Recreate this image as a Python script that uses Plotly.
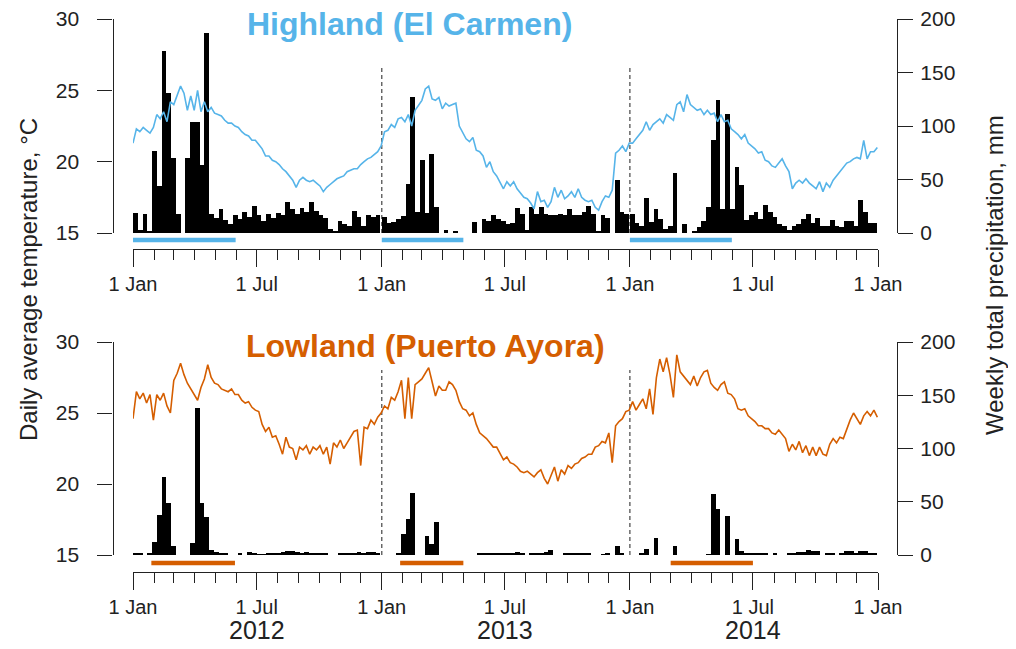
import pandas as pd
import plotly.graph_objects as go

# ---------------- data ----------------
YEARS = [2012, 2013, 2014]

# weekly total precipitation, mm (52 weeks per year, starting 1 Jan)
highland_rain_2012 = [19, 3, 18, 1, 77, 44, 170, 131, 70, 18,
                      0, 70, 104, 104, 64, 187, 18, 14, 22, 12,
                      8, 17, 13, 20, 15, 25, 17, 11, 18, 14,
                      19, 17, 29, 22, 18, 23, 20, 29, 21, 17,
                      14, 4, 2, 11, 8, 7, 21, 15, 7, 17,
                      15, 17]
highland_rain_2013 = [15, 9, 10, 13, 16, 46, 127, 20, 68, 19,
                      74, 24, 0, 3, 0, 2, 0, 0, 0, 10,
                      0, 13, 11, 17, 13, 11, 8, 9, 23, 18,
                      3, 24, 18, 24, 18, 17, 17, 18, 17, 22,
                      17, 17, 20, 25, 18, 2, 17, 14, 0, 50,
                      20, 18]
highland_rain_2014 = [18, 9, 7, 33, 10, 22, 13, 4, 7, 56,
                      0, 8, 0, 2, 6, 11, 24, 87, 124, 22,
                      111, 22, 62, 45, 12, 17, 20, 13, 26, 20,
                      15, 8, 7, 3, 7, 8, 13, 18, 9, 14,
                      7, 7, 12, 7, 6, 11, 11, 7, 31, 20,
                      9, 9]

lowland_rain_2012 = [1.5, 2, 0, 1.5, 12.5, 37.5, 73, 48.5, 8, 0,
                     0, 0, 11.6, 138, 48.5, 36, 5, 3, 1.5, 1,
                     0, 0, 1, 0, 3, 1, 0.5, 0.5, 1, 1,
                     2, 3, 3.5, 3.5, 3, 2, 3, 1, 1, 1,
                     1, 0, 0, 1, 1, 1, 2, 3, 1, 3,
                     3, 1]
lowland_rain_2013 = [0, 0, 0, 1.5, 20, 33.5, 58.5, 0, 0, 18,
                     10, 31, 0, 0, 0, 0, 0, 0, 0, 0,
                     1.5, 2, 1, 1.5, 1, 1, 1, 2, 2.5, 1,
                     0, 1, 1, 1, 2.5, 5, 0, 0, 1, 1.5,
                     1, 1, 1, 1, 0, 0, 0.7, 1, 0, 8.5,
                     1.5, 0]
lowland_rain_2014 = [0, 0, 1.5, 5.3, 0, 15.6, 0, 0, 0, 8.5,
                     0, 0, 0, 0, 0, 0, 0.7, 57, 43, 0,
                     36.6, 0, 14.7, 3.8, 1, 1.5, 1, 1.5, 1, 0,
                     1, 0, 0, 1, 1.5, 3, 2.5, 5, 3.8, 3.8,
                     0, 1, 1.5, 0, 1, 3.8, 3.8, 1, 4, 4,
                     1.5, 1.5]

# average temperature, °C, sampled every 5 days from 1 Jan 2012
TEMP_START = "2012-01-01"
TEMP_STEP = "5D"
highland_temp_2012 = [21.3, 22.3, 22.1, 22.4, 22.2, 22.0, 22.4, 23.3, 23.0, 23.5,
                      22.8, 24.2, 24.0, 24.7, 25.3, 24.8, 23.6, 24.6, 23.6, 25.0,
                      23.5, 24.2, 23.5, 23.8, 23.4, 23.3, 23.2, 22.9, 22.7, 22.7,
                      22.5, 22.4, 22.1, 21.9, 21.8, 21.5, 21.5, 21.2, 20.9, 20.4,
                      20.4, 20.1, 20.0, 19.8, 19.5, 19.3, 19.0, 18.7, 18.2, 18.7,
                      18.9, 18.7, 18.6, 18.7, 18.5, 18.3, 17.9, 18.2, 18.4, 18.6,
                      18.8, 18.9, 19.0, 19.3, 19.4, 19.5, 19.5, 19.8, 20.0, 20.2,
                      20.3, 20.5, 20.7, 21.1]
highland_temp_2013 = [22.1, 22.2, 22.6, 22.4, 23.0, 23.1, 22.8, 23.3, 22.5, 23.6,
                      24.0, 24.3, 25.1, 25.3, 24.4, 24.3, 24.5, 23.7, 24.1, 23.9,
                      24.0, 24.1, 22.5, 22.0, 21.6, 21.4, 21.7, 20.8, 20.7, 20.4,
                      19.6, 20.0, 19.3, 19.0, 18.6, 18.1, 18.6, 18.3, 18.6, 18.1,
                      17.8, 17.5, 17.4, 17.1, 16.7, 17.9, 17.2, 17.3, 16.8, 17.2,
                      18.2, 17.5, 18.0, 17.4, 17.6, 17.9, 17.5, 18.1, 17.5, 17.3,
                      17.2, 17.3, 16.8, 16.6, 17.2, 17.6, 17.5, 18.0, 20.6, 20.8,
                      21.1, 20.7, 21.3]
highland_temp_2014 = [21.3, 21.6, 21.9, 22.2, 22.8, 22.2, 22.6, 22.8, 23.0, 22.7,
                      23.3, 23.1, 22.9, 24.0, 24.2, 23.5, 24.7, 24.0, 23.8, 23.6,
                      23.7, 23.3, 23.6, 23.3, 23.4, 22.8, 23.3, 22.8, 22.9, 22.3,
                      22.1, 21.9, 21.6, 21.9, 21.3, 21.1, 20.9, 20.6, 20.7, 20.1,
                      20.0, 19.7, 19.6, 19.9, 20.2, 19.7, 19.3, 18.1, 18.5, 18.7,
                      18.5, 18.8, 18.5, 18.3, 18.1, 18.6, 17.9, 18.5, 18.2, 18.7,
                      19.0, 19.3, 19.6, 19.9, 20.0, 20.2, 20.3, 20.2, 21.5, 20.2,
                      20.7, 20.7, 21.0]

lowland_temp_2012 = [24.6, 26.5, 26.0, 26.4, 25.7, 26.3, 24.5, 26.3, 25.9, 26.4,
                     25.5, 25.0, 27.3, 27.8, 28.5, 27.7, 27.1, 26.7, 26.4, 25.9,
                     26.8, 27.4, 28.4, 27.5, 27.1, 27.0, 26.7, 26.6, 26.5, 26.7,
                     26.3, 26.3, 25.9, 25.7, 25.8, 25.4, 25.2, 25.1, 24.2, 23.7,
                     24.0, 23.3, 23.4, 22.8, 22.1, 23.3, 22.6, 22.5, 21.7, 22.6,
                     22.4, 22.7, 22.1, 22.6, 22.4, 22.7, 22.1, 22.6, 21.4, 22.9,
                     22.6, 23.1, 22.5, 22.9, 23.3, 23.7, 23.8, 21.3, 24.0, 23.9,
                     24.5, 24.2, 24.7, 25.0]
lowland_temp_2013 = [25.5, 25.3, 26.1, 25.9, 26.5, 27.3, 24.6, 27.5, 24.6, 27.0,
                     27.2, 27.4, 27.8, 28.2, 27.2, 26.2, 26.9, 26.6, 26.6, 27.2,
                     27.0, 26.6, 25.8, 25.3, 25.2, 24.8, 25.0, 24.2, 23.6, 23.4,
                     23.2, 22.9, 22.6, 22.6, 22.1, 21.7, 21.9, 21.5, 21.4, 21.2,
                     20.9, 20.8, 20.9, 20.7, 20.5, 20.8, 21.0, 20.4, 20.0, 20.6,
                     21.2, 20.2, 21.0, 20.7, 21.3, 21.1, 21.4, 21.5, 21.8, 21.9,
                     22.1, 22.1, 22.6, 22.7, 23.0, 22.9, 23.6, 21.5, 24.1, 24.4,
                     24.6, 25.1, 25.2]
lowland_temp_2014 = [25.8, 25.2, 25.6, 26.0, 25.3, 26.7, 24.9, 27.5, 28.8, 27.9,
                     28.9, 27.7, 26.1, 29.1, 27.9, 27.6, 27.3, 27.0, 27.6, 26.9,
                     27.5, 27.9, 28.0, 27.1, 26.8, 26.6, 27.0, 27.2, 26.4, 26.3,
                     26.0, 25.3, 25.2, 25.3, 24.8, 24.6, 24.4, 24.1, 24.1, 23.9,
                     23.9, 23.6, 23.5, 23.8, 23.5, 23.2, 22.3, 22.8, 22.4, 23.0,
                     22.2, 22.7, 22.0, 22.6, 22.0, 22.6, 22.1, 22.0, 22.8, 23.2,
                     22.9, 23.3, 23.2, 23.9, 24.5, 25.0, 24.6, 24.2, 24.8, 25.1,
                     24.8, 25.2, 24.7]

# wet-season periods (start, end)
highland_wet = [("2012-01-01", "2012-05-31"), ("2013-01-01", "2013-05-01"), ("2014-01-01", "2014-05-31")]
lowland_wet = [("2012-01-28", "2012-05-30"), ("2013-01-28", "2013-05-01"), ("2014-03-02", "2014-07-01")]

# axis / label text
TITLE_HIGH = "Highland (El Carmen)"
TITLE_LOW = "Lowland (Puerto Ayora)"
LEFT_LABEL = "Daily average temperature, °C"
RIGHT_LABEL = "Weekly total precipitation, mm"

# ---------------- styling ----------------
# the page body adds an 8 px margin, so the figure is sized to sit inside it
PAGE_W, PAGE_H, OFF = 1016, 649, 8
W, H = PAGE_W - 2 * OFF, PAGE_H - 2 * OFF
BLUE = "#56B4E9"
ORANGE = "#D55E00"
INK = "#222222"
FONT = "Liberation Sans, Arial, Helvetica, sans-serif"


def fx(px):
    return (px - OFF) / W


def fy(px):
    return 1 - (px - OFF) / H


def weekly(values_by_year):
    xs, ys = [], []
    for yr, vals in zip(YEARS, values_by_year):
        xs += list(pd.date_range(f"{yr}-01-01", periods=len(vals), freq="7D"))
        ys += vals
    return xs, ys


WEEK_MS = 7 * 24 * 3600 * 1000

hr_x, hr_y = weekly([highland_rain_2012, highland_rain_2013, highland_rain_2014])
lr_x, lr_y = weekly([lowland_rain_2012, lowland_rain_2013, lowland_rain_2014])
ht_y = highland_temp_2012 + highland_temp_2013 + highland_temp_2014
lt_y = lowland_temp_2012 + lowland_temp_2013 + lowland_temp_2014
ht_x = pd.date_range(TEMP_START, periods=len(ht_y), freq=TEMP_STEP)
lt_x = pd.date_range(TEMP_START, periods=len(lt_y), freq=TEMP_STEP)

fig = go.Figure()
fig.add_trace(go.Bar(x=hr_x, y=hr_y, width=WEEK_MS, offset=0, marker=dict(color="black", line=dict(width=0)),
                     xaxis="x", yaxis="y", hoverinfo="skip"))
fig.add_trace(go.Scatter(x=ht_x, y=ht_y, mode="lines", line=dict(color=BLUE, width=1.6),
                         xaxis="x", yaxis="y2", hoverinfo="skip"))
fig.add_trace(go.Bar(x=lr_x, y=lr_y, width=WEEK_MS, offset=0, marker=dict(color="black", line=dict(width=0)),
                     xaxis="x2", yaxis="y3", hoverinfo="skip"))
fig.add_trace(go.Scatter(x=lt_x, y=lt_y, mode="lines", line=dict(color=ORANGE, width=1.6),
                         xaxis="x2", yaxis="y4", hoverinfo="skip"))

axis_common = dict(showline=True, linecolor=INK, linewidth=1.3, ticks="outside", tickwidth=1.3,
                   tickcolor=INK, showgrid=False, zeroline=False, fixedrange=True, automargin=False,
                   ticklabeloverflow="allow")


def xaxis(pos_px):
    return dict(axis_common, domain=[fx(133), fx(878)], range=["2012-01-01", "2015-01-01"],
                anchor="free", position=fy(pos_px), ticklen=17, dtick="M6", tick0="2012-01-01",
                tickformat="%-d %b", tickfont=dict(size=20, color=INK, family=FONT),
                ticklabelstandoff=0,
                minor=dict(dtick="M1", tick0="2012-01-01", ticks="outside", ticklen=10,
                           tickwidth=1.3, tickcolor=INK, showgrid=False))


def rain_axis(top_px, bottom_px):
    return dict(axis_common, domain=[fy(bottom_px), fy(top_px)], range=[0, 200.01], dtick=50,
                tick0=0, anchor="free", position=fx(897), side="right", ticklen=15,
                tickfont=dict(size=21, color=INK, family=FONT), ticklabelstandoff=3)


def temp_axis(over):
    return dict(axis_common, overlaying=over, range=[15, 30.001], dtick=5, tick0=15, anchor="free",
                position=fx(112.5), side="left", ticklen=15,
                tickfont=dict(size=21, color=INK, family=FONT), ticklabelstandoff=14)


shapes = []
for yr in YEARS[1:]:
    shapes.append(dict(type="line", xref="x", yref="paper", x0=f"{yr}-01-01", x1=f"{yr}-01-01",
                       y0=fy(233), y1=fy(65), line=dict(color="#444444", width=1.2, dash="4px,3px"),
                       layer="below"))
    shapes.append(dict(type="line", xref="x2", yref="paper", x0=f"{yr}-01-01", x1=f"{yr}-01-01",
                       y0=fy(555), y1=fy(370), line=dict(color="#444444", width=1.2, dash="4px,3px"),
                       layer="below"))
for a, b in highland_wet:
    shapes.append(dict(type="line", xref="x", yref="paper", x0=a, x1=b, y0=fy(240), y1=fy(240),
                       line=dict(color=BLUE, width=4.5)))
for a, b in lowland_wet:
    shapes.append(dict(type="line", xref="x2", yref="paper", x0=a, x1=b, y0=fy(563), y1=fy(563),
                       line=dict(color=ORANGE, width=4.5)))

annotations = [
    dict(text=f"<b>{TITLE_HIGH}</b>", xref="paper", yref="paper", x=fx(409), y=fy(24),
         showarrow=False, font=dict(size=32, color=BLUE, family=FONT), xanchor="center", yanchor="middle"),
    dict(text=f"<b>{TITLE_LOW}</b>", xref="paper", yref="paper", x=fx(425), y=fy(346),
         showarrow=False, font=dict(size=32, color=ORANGE, family=FONT), xanchor="center", yanchor="middle"),
    dict(text=LEFT_LABEL, xref="paper", yref="paper", x=fx(28), y=fy(280), textangle=-90,
         showarrow=False, font=dict(size=24, color=INK, family=FONT), xanchor="center", yanchor="middle"),
    dict(text=RIGHT_LABEL, xref="paper", yref="paper", x=fx(994), y=fy(275), textangle=-90,
         showarrow=False, font=dict(size=24, color=INK, family=FONT), xanchor="center", yanchor="middle"),
]
for yr in YEARS:
    annotations.append(dict(text=str(yr), xref="x2", yref="paper", x=f"{yr}-07-01", y=fy(630),
                            showarrow=False, font=dict(size=25, color=INK, family=FONT),
                            xanchor="center", yanchor="middle"))

fig.update_layout(
    template="none",
    width=W, height=H, autosize=False,
    margin=dict(l=0, r=0, t=0, b=0, pad=0, autoexpand=False),
    paper_bgcolor="white", plot_bgcolor="white",
    showlegend=False, bargap=0,
    font=dict(family=FONT, color=INK),
    xaxis=xaxis(249),
    xaxis2=xaxis(572),
    yaxis=rain_axis(19, 233),
    yaxis2=temp_axis("y"),
    yaxis3=rain_axis(342, 555),
    yaxis4=temp_axis("y3"),
    shapes=shapes,
    annotations=annotations,
)

fig.write_html("out.html")
